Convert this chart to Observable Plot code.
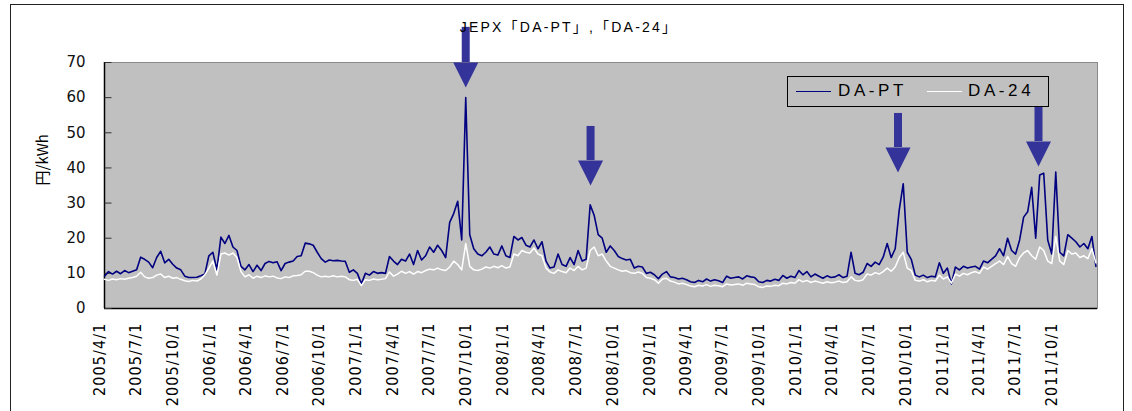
<!DOCTYPE html>
<html>
<head>
<meta charset="utf-8">
<script src="https://cdn.jsdelivr.net/npm/d3@7"></script>
<script src="https://cdn.jsdelivr.net/npm/@observablehq/plot@0.6"></script>
<style>
  html, body { margin: 0; padding: 0; background: #fff; }
  #wrap { position: relative; width: 1132px; height: 411px; overflow: hidden; background: #fff; }
  #border { position: absolute; left: 10px; top: 4px; width: 1114px; height: 600px; border: 1.5px solid #222; box-sizing: border-box; }
  #title { position: absolute; left: 569px; top: 16px; transform: translateX(-50%); white-space: nowrap;
           font: 14px "Liberation Sans", "Noto Sans CJK JP", sans-serif; letter-spacing: 2.2px; color: #000; }
  #legend { position: absolute; left: 787px; top: 76px; width: 262px; height: 31px; box-sizing: border-box;
            border: 1px solid #000; background: #c0c0c0; font: 17px "Liberation Sans", sans-serif; letter-spacing: 3.6px; }
  #legend .ln { position: absolute; top: 14px; width: 35px; height: 0; border-top: 1.5px solid; }
  #legend .tx { position: absolute; top: 4px; line-height: 20px; white-space: nowrap; }
  #chart { position: absolute; left: 0; top: 0; }
  g[font-family*="Narrow"] { letter-spacing: 1.1px; }
</style>
</head>
<body>
<div id="wrap">
  <div id="chart"></div>
  <div id="border"></div>
  <div id="title"></div>
  <div id="legend"></div>
</div>
<script>
// ---- data ----
const titleText = "JEPX「DA-PT」,「DA-24」";
const yLabel = "円/kWh";
const seriesNames = ["DA-PT", "DA-24"];
const startDate = "2005-04-01";
const stepDays = 10;
const endDate = "2012-01-09";

const daPT = [
  9.2,10.5,9.8,10.6,9.9,10.8,10.2,10.6,11.0,14.6,
  14.0,13.2,11.6,14.5,16.3,13.0,14.0,12.6,11.5,11.0,
  9.2,8.8,8.8,8.9,9.3,9.8,15.0,16.0,11.0,20.3,
  18.5,20.8,17.5,16.5,12.0,11.0,12.5,10.5,12.3,10.8,
  12.8,13.4,13.0,13.3,10.8,12.8,13.2,13.5,14.8,15.0,
  18.6,18.4,18.0,16.0,14.2,13.2,13.8,13.6,13.7,13.5,
  13.4,10.3,11.0,10.0,7.0,10.0,9.5,10.5,10.0,10.2,
  10.0,14.8,13.5,12.5,14.0,13.5,15.5,12.5,16.5,13.8,
  15.0,17.5,16.0,18.0,16.5,14.5,24.5,27.0,30.5,19.5,
  60.0,21.0,17.0,15.5,15.0,16.0,17.5,15.5,15.2,17.8,
  15.0,14.5,20.5,19.5,20.2,18.0,17.5,19.5,17.0,19.0,
  13.5,11.5,11.8,15.5,12.5,12.0,14.5,12.5,16.5,13.5,
  14.0,29.5,26.5,21.0,20.0,16.0,17.8,16.5,14.8,14.2,
  13.8,14.0,11.5,12.0,11.8,10.0,10.3,9.6,8.5,9.8,
  10.5,9.0,8.8,8.4,8.6,8.2,7.6,7.4,8.0,7.6,
  8.4,7.8,8.2,7.9,7.4,9.2,8.6,8.8,9.0,8.4,
  9.3,9.0,8.8,7.6,7.4,8.0,7.8,8.3,8.0,9.4,
  8.6,9.2,8.8,10.8,9.6,10.5,9.0,9.8,9.2,8.6,
  9.3,8.8,9.0,9.6,8.8,9.2,16.0,10.0,9.6,10.3,
  12.8,12.0,13.2,12.5,14.6,18.5,14.5,17.0,28.0,35.5,
  16.0,14.0,9.5,9.0,9.5,8.8,9.2,9.0,13.0,10.0,
  11.5,7.0,11.8,11.0,12.0,11.5,11.8,12.0,11.2,13.5,
  13.0,14.0,15.0,17.0,15.0,20.0,16.5,15.5,19.5,26.0,
  27.5,34.5,20.0,38.0,38.5,19.5,15.5,38.8,16.0,15.0,
  21.0,20.0,19.0,17.5,18.5,17.0,20.5,12.0
];

const da24 = [
  8.3,8.0,8.4,8.2,8.5,8.3,8.6,8.8,9.2,10.3,
  9.0,8.6,8.8,9.5,9.8,8.8,9.2,8.6,8.8,8.3,
  7.9,7.7,8.0,7.8,8.4,9.6,11.5,13.5,9.5,15.5,
  15.8,15.2,15.8,14.5,10.5,9.0,9.6,8.6,9.2,8.8,
  9.3,9.0,9.2,8.7,8.5,9.0,8.8,9.3,9.4,9.6,
  10.6,10.6,10.2,9.5,9.0,9.2,9.0,9.3,9.0,9.2,
  9.0,8.2,8.0,8.3,6.5,8.2,8.0,8.4,8.2,8.3,
  8.5,10.4,9.2,9.8,10.6,10.0,10.5,9.8,10.5,10.2,
  10.8,11.2,11.0,11.5,11.0,10.8,11.8,13.5,12.5,11.0,
  18.5,12.0,11.0,10.8,11.2,11.8,11.5,12.0,11.6,12.2,
  11.5,11.8,15.5,15.0,16.5,16.0,15.8,17.2,15.5,15.0,
  11.5,10.4,10.0,11.0,10.5,10.2,11.5,10.8,12.0,11.0,
  11.5,16.5,17.5,15.0,15.5,13.5,12.0,11.5,11.0,10.6,
  10.8,10.2,10.0,10.4,10.0,8.8,8.6,8.2,7.2,8.4,
  8.6,7.8,7.5,7.0,7.2,6.8,6.4,6.2,6.6,6.4,
  6.8,6.3,6.6,6.5,6.2,7.0,6.7,6.8,7.0,6.6,
  7.2,7.0,6.8,6.2,6.0,6.4,6.3,6.6,6.5,7.2,
  7.0,7.4,7.2,8.2,7.6,8.0,7.4,7.8,7.5,7.2,
  7.6,7.3,7.5,7.8,7.4,7.6,9.0,8.0,7.8,8.2,
  9.8,9.5,10.2,9.8,10.5,11.5,10.6,11.8,14.5,16.0,
  11.5,10.8,8.0,7.8,8.2,7.6,8.0,7.8,9.5,8.4,
  9.0,7.2,9.8,9.2,10.0,9.6,10.2,10.5,10.0,11.8,
  11.2,12.0,12.8,13.5,12.5,14.8,12.8,12.0,14.5,15.8,
  16.5,15.0,14.0,17.5,16.5,13.5,12.8,20.5,13.5,12.5,
  16.5,15.5,15.8,14.5,15.0,14.2,17.0,13.0
];

const xTickLabels = [
  "2005/4/1","2005/7/1","2005/10/1","2006/1/1","2006/4/1","2006/7/1","2006/10/1",
  "2007/1/1","2007/4/1","2007/7/1","2007/10/1","2008/1/1","2008/4/1","2008/7/1",
  "2008/10/1","2009/1/1","2009/4/1","2009/7/1","2009/10/1","2010/1/1","2010/4/1",
  "2010/7/1","2010/10/1","2011/1/1","2011/4/1","2011/7/1","2011/10/1"
];
const yTicks = [0, 10, 20, 30, 40, 50, 60, 70];

// arrows: date, shaft top value, head start value
const arrowDates = ["2007-09-18", "2008-07-25", "2010-08-30", "2011-08-15"];
const arrowTop   = [80.0, 51.8, 55.5, 57.5];
const arrowHead  = [70.0, 42.1, 45.8, 47.5];

// ---- build ----
const iso = d3.utcParse("%Y-%m-%d");
const slash = d3.utcParse("%Y/%m/%d");
const t0 = iso(startDate);
const t1 = iso(endDate);
const rowsPT = daPT.map((v, i) => ({date: d3.utcDay.offset(t0, i * stepDays), value: v}));
const rows24 = da24.map((v, i) => ({date: d3.utcDay.offset(t0, i * stepDays), value: v}));
const xTicks = xTickLabels.map(s => ({date: slash(s), label: s}));
const arrows = arrowDates.map((d, i) => ({date: iso(d), top: arrowTop[i], head: arrowHead[i]}));

const tickSymbol = { draw(ctx) { ctx.moveTo(0, 0); ctx.lineTo(7, 0); } };
const headSymbol = { draw(ctx) { ctx.moveTo(-12.5, 0); ctx.lineTo(12.5, 0); ctx.lineTo(0, 25); ctx.closePath(); } };

const arrowColor = "#333399";

const chart = Plot.plot({
  width: 1132,
  height: 411,
  marginLeft: 104,
  marginRight: 35,
  marginTop: 62,
  marginBottom: 103,
  style: {background: "transparent", fontFamily: "DejaVu Sans", overflow: "visible"},
  x: {type: "utc", domain: [t0, t1], axis: null},
  y: {domain: [0, 70], axis: null},
  marks: [
    Plot.frame({fill: "#c0c0c0", stroke: "#8a8a8a"}),
    Plot.ruleX([t0], {stroke: "#000", strokeWidth: 1.5}),
    Plot.ruleY([0], {stroke: "#000", strokeWidth: 1.5}),
    Plot.dot(yTicks, {x: () => t0, y: d => d, symbol: tickSymbol, stroke: "#333", fill: "none", strokeWidth: 1, r: 3}),
    Plot.line(rowsPT, {x: "date", y: "value", stroke: "#000080", strokeWidth: 1.6}),
    Plot.line(rows24, {x: "date", y: "value", stroke: "#ffffff", strokeWidth: 1.5}),
    Plot.ruleX(arrows, {x: "date", y1: "top", y2: "head", stroke: arrowColor, strokeWidth: 8}),
    Plot.dot(arrows, {x: "date", y: "head", symbol: headSymbol, fill: arrowColor, stroke: "none", r: 5}),
    Plot.text(yTicks, {x: () => t0, y: d => d, text: d => String(d), textAnchor: "end", dx: -19,
      fontFamily: "DejaVu Sans", fontSize: 15, fill: "#111"}),
    Plot.text(xTicks, {x: "date", frameAnchor: "bottom", text: "label", rotate: -90, textAnchor: "end",
      dy: 14, fontFamily: "Liberation Sans Narrow, DejaVu Sans Condensed, sans-serif", fontSize: 16, fill: "#000"}),
    Plot.text([yLabel], {frameAnchor: "left", text: d => d, rotate: -90, dx: -61,
      fontFamily: "Noto Sans CJK JP", fontSize: 15, fill: "#000"})
  ]
});
document.getElementById("chart").appendChild(chart);

document.getElementById("title").textContent = titleText;

const legend = document.getElementById("legend");
const items = [
  {name: seriesNames[0], color: "#000080", lineLeft: 8, textLeft: 50},
  {name: seriesNames[1], color: "#ffffff", lineLeft: 139, textLeft: 180}
];
for (const it of items) {
  const ln = document.createElement("div");
  ln.className = "ln";
  ln.style.left = it.lineLeft + "px";
  ln.style.borderTopColor = it.color;
  legend.appendChild(ln);
  const tx = document.createElement("div");
  tx.className = "tx";
  tx.style.left = it.textLeft + "px";
  tx.textContent = it.name;
  legend.appendChild(tx);
}
</script>
</body>
</html>
